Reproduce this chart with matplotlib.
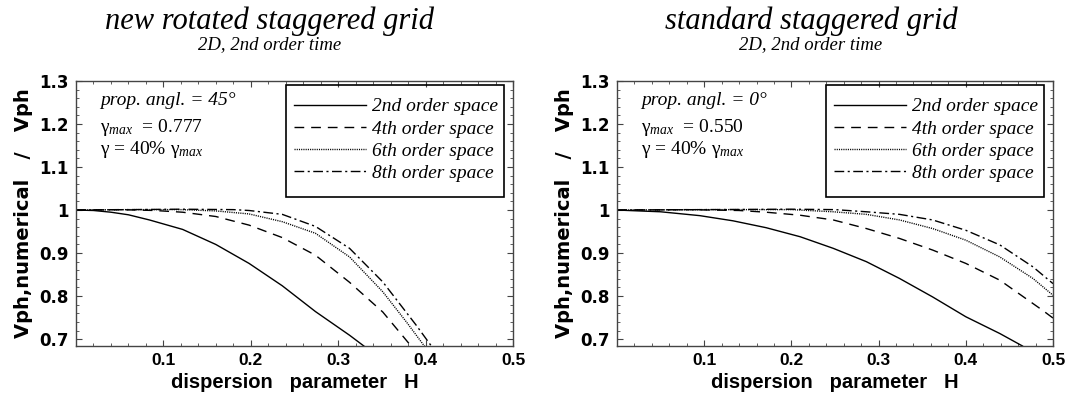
import numpy as np
import matplotlib
matplotlib.use('Agg')
import matplotlib.pyplot as plt
from matplotlib.ticker import MultipleLocator, FixedLocator
from matplotlib.patches import Rectangle

plt.rcParams['mathtext.fontset'] = 'custom'
plt.rcParams['mathtext.rm'] = 'Liberation Serif'
plt.rcParams['mathtext.it'] = 'Liberation Serif:italic'

# --- data (H, Vph,num / Vph) ---
# rotated staggered grid, 45 deg
rot_h2 = [0, 0.02, 0.04, 0.06, 0.084, 0.122, 0.16, 0.198, 0.236, 0.274, 0.313, 0.33]
rot_v2 = [1.0, 0.999, 0.995, 0.989, 0.977, 0.955, 0.920, 0.876, 0.824, 0.764, 0.709, 0.683]
rot_h4 = [0, 0.05, 0.09, 0.122, 0.16, 0.198, 0.236, 0.274, 0.313, 0.351, 0.385]
rot_v4 = [1.0, 1.001, 0.999, 0.995, 0.985, 0.965, 0.936, 0.895, 0.832, 0.763, 0.68]
rot_h6 = [0, 0.06, 0.12, 0.16, 0.198, 0.236, 0.274, 0.313, 0.351, 0.378, 0.40]
rot_v6 = [1.0, 1.001, 1.001, 0.998, 0.991, 0.973, 0.946, 0.891, 0.810, 0.740, 0.68]
rot_h8 = [0, 0.06, 0.12, 0.18, 0.198, 0.236, 0.274, 0.313, 0.351, 0.389, 0.408]
rot_v8 = [1.0, 1.001, 1.002, 1.001, 0.999, 0.990, 0.962, 0.911, 0.833, 0.733, 0.68]

# standard staggered grid, 0 deg
std_h2 = [0, 0.05, 0.095, 0.133, 0.171, 0.21, 0.248, 0.286, 0.324, 0.362, 0.40, 0.439, 0.465]
std_v2 = [1.0, 0.996, 0.987, 0.975, 0.959, 0.938, 0.911, 0.880, 0.841, 0.798, 0.752, 0.713, 0.684]
std_h4 = [0, 0.08, 0.14, 0.171, 0.21, 0.248, 0.286, 0.324, 0.362, 0.40, 0.439, 0.488, 0.5]
std_v4 = [1.0, 1.001, 0.999, 0.995, 0.988, 0.977, 0.957, 0.934, 0.907, 0.876, 0.837, 0.767, 0.749]
std_h6 = [0, 0.1, 0.2, 0.248, 0.286, 0.324, 0.362, 0.40, 0.439, 0.477, 0.5]
std_v6 = [1.0, 1.001, 1.001, 0.996, 0.990, 0.977, 0.957, 0.930, 0.891, 0.841, 0.802]
std_h8 = [0, 0.1, 0.2, 0.25, 0.286, 0.324, 0.362, 0.40, 0.439, 0.477, 0.5]
std_v8 = [1.0, 1.001, 1.002, 1.001, 0.996, 0.990, 0.977, 0.953, 0.919, 0.868, 0.829]

labels = ['2nd order space', '4th order space', '6th order space', '8th order space']
styles = ['-', (0, (7, 5)), (0, (0.8, 0.8)), (0, (7, 2.5, 1.5, 2.5))]
yticks = [0.7, 0.8, 0.9, 1.0, 1.1, 1.2, 1.3]
ytick_labels = ['0.7', '0.8', '0.9', '1', '1.1', '1.2', '1.3']
xticks = [0.1, 0.2, 0.3, 0.4, 0.5]
xtick_labels = ['0.1', '0.2', '0.3', '0.4', '0.5']

panels = [
    dict(title='new rotated staggered grid', angle='prop. angl. = 45°', gmax='0.777',
         curves=[(rot_h2, rot_v2), (rot_h4, rot_v4), (rot_h6, rot_v6), (rot_h8, rot_v8)],
         rect=[76/1070, 54/400, 437/1070, 265/400], tx=270/1070),
    dict(title='standard staggered grid', angle='prop. angl. = 0°', gmax='0.550',
         curves=[(std_h2, std_v2), (std_h4, std_v4), (std_h6, std_v6), (std_h8, std_v8)],
         rect=[617/1070, 54/400, 436/1070, 265/400], tx=811/1070),
]

fig = plt.figure(figsize=(10.7, 4.0), dpi=100)
serif = 'Liberation Serif'
sans = 'Liberation Sans'
wide = 'DejaVu Sans'

for p in panels:
    ax = fig.add_axes(p['rect'])
    for (h, v), ls, lab in zip(p['curves'], styles, labels):
        ax.plot(h, v, color='black', lw=1.0, linestyle=ls, label=lab)
    ax.set_xlim(0, 0.5)
    ax.set_ylim(0.684, 1.3)
    ax.xaxis.set_major_locator(FixedLocator(xticks))
    ax.set_xticklabels(xtick_labels)
    ax.yaxis.set_major_locator(FixedLocator(yticks))
    ax.set_yticklabels(ytick_labels)
    ax.xaxis.set_minor_locator(MultipleLocator(0.02))
    ax.yaxis.set_minor_locator(MultipleLocator(0.02))
    ax.tick_params(which='both', direction='in', top=True, right=True, color='#444444')
    ax.tick_params(which='major', length=4, width=0.8, pad=5)
    ax.tick_params(which='minor', length=2.2, width=0.6)
    for t in ax.get_xticklabels():
        t.set_fontfamily(sans)
        t.set_fontweight('bold')
        t.set_fontsize(12.5)
    for t in ax.get_yticklabels():
        t.set_fontfamily(wide)
        t.set_fontweight('bold')
        t.set_fontsize(12)
    for s in ax.spines.values():
        s.set_color('#444444')
        s.set_linewidth(1.0)
    ax.set_xlabel('dispersion   parameter   H', fontfamily=sans, fontweight='bold',
                  fontsize=14.5, labelpad=4)
    ax.set_ylabel('Vph,numerical   /   Vph', fontfamily=wide, fontweight='bold',
                  fontsize=14, labelpad=5)

    ax.text(0.055, 0.928, p['angle'], transform=ax.transAxes, fontfamily=serif,
            style='italic', fontsize=14, va='center')
    ax.text(0.055, 0.826, r'$\mathrm{\gamma}_{\mathit{max}}$  = ' + p['gmax'],
            transform=ax.transAxes, fontfamily=serif, fontsize=14, va='center')
    ax.text(0.055, 0.74, r'$\mathrm{\gamma}$ = 40% $\mathrm{\gamma}_{\mathit{max}}$',
            transform=ax.transAxes, fontfamily=serif, fontsize=14, va='center')

    # legend without its own frame, box drawn separately
    leg = ax.legend(loc='upper right', bbox_to_anchor=(0.965, 0.937), frameon=False,
                    handlelength=3.7, handletextpad=0.3, labelspacing=0.24,
                    borderpad=0, borderaxespad=0,
                    prop=dict(family=serif, style='italic', size=14))
    ax.add_patch(Rectangle((0.4805, 0.562), 0.4985, 0.423, transform=ax.transAxes,
                           fill=False, edgecolor='black', lw=1.2, zorder=5))

    fig.text(p['tx'], 0.948, p['title'], ha='center', va='center', fontfamily=serif,
             style='italic', fontsize=22)
    fig.text(p['tx'], 0.888, '2D, 2nd order time', ha='center', va='center',
             fontfamily=serif, style='italic', fontsize=13.5)

fig.savefig('out.png', dpi=100)
